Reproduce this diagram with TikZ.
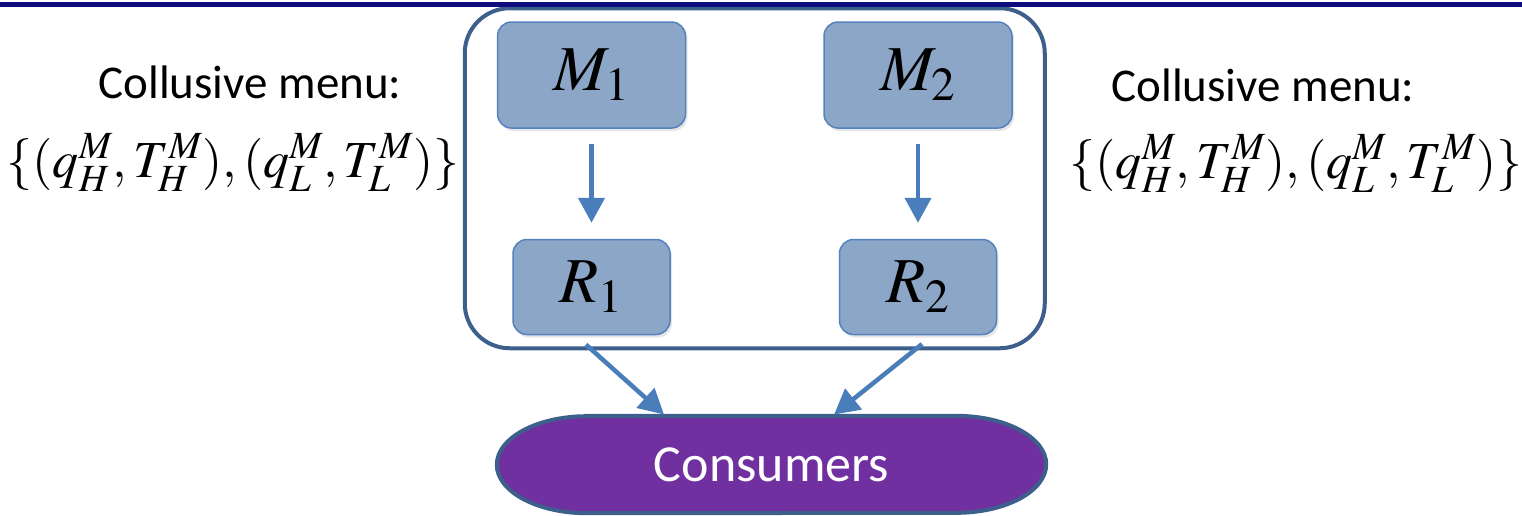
\documentclass[tikz,border=0pt]{standalone}
\usepackage{mathptmx}
\usepackage[no-math]{fontspec}
\newfontfamily\calibri{Carlito}
\usetikzlibrary{arrows.meta,positioning,fit,backgrounds,shadows,calc}

\definecolor{barnavy}{RGB}{12,12,125}
\definecolor{frameblue}{RGB}{61,95,140}
\definecolor{boxfill}{RGB}{140,166,199}
\definecolor{boxedge}{RGB}{84,130,190}
\definecolor{arrowblue}{RGB}{74,126,187}
\definecolor{conspurple}{RGB}{112,48,160}

\begin{document}
\begin{tikzpicture}[x=1pt, y=-1pt,
  firm/.style={draw=boxedge, line width=1.5pt, fill=boxfill, rounded corners=14pt,
    drop shadow={shadow xshift=2pt, shadow yshift=-3pt, opacity=0.2},
    font=\fontsize{64}{64}\selectfont, inner sep=0pt},
  upper/.style={firm, minimum width=188pt, minimum height=106pt},
  lower/.style={firm, minimum width=157pt, minimum height=95pt},
  frame/.style={draw=frameblue, line width=4pt, rounded corners=45pt},
  flow/.style={-{Triangle[width=26pt,length=25pt]}, arrowblue, line width=4.5pt},
  menu/.style={anchor=base, font=\calibri\fontsize{47}{47}\selectfont},
  offer/.style={anchor=base, font=\fontsize{52}{52}\selectfont},
]
  \useasboundingbox (0,0) rectangle (1522,515);

  % title rule
  \draw[barnavy, line width=5pt] (0,4.5) -- (1522,4.5);

  % manufacturers and retailers
  \node[upper] (m1) at (591.5,75) {$M_1$};
  \node[upper, right=137pt of m1] (m2) {$M_2$};
  \node[lower, below=110pt of m1] (r1) {$R_1$};
  \node[lower, below=110pt of m2] (r2) {$R_2$};

  % consumers
  \node[minimum width=549pt, minimum height=97pt, text=white,
    font=\calibri\fontsize{52}{52}\selectfont] (cons) at (771.5,464.5) {Consumers};

  \begin{scope}[on background layer]
    \node[frame, fit=(m1)(m2)(r1)(r2), inner xsep=32pt, inner ysep=13pt] (mkt) {};
    \path[fill=conspurple, draw=frameblue, line width=4pt]
      ($(cons.north west)+(90,0)$) -- ($(cons.north east)+(-90,0)$)
      arc[start angle=90, end angle=-90, x radius=90pt, y radius=48.5pt]
      -- ($(cons.south west)+(90,0)$)
      arc[start angle=270, end angle=90, x radius=90pt, y radius=48.5pt] -- cycle;
  \end{scope}

  % menus offered on each side
  \node[menu] (menu1) at (250,98) {Collusive menu:};
  \node[offer] (set1) at (233,177) {$\{(q_H^M, T_H^M), (q_L^M, T_L^M)\}$};
  \node[menu] (menu2) at (1263,101) {Collusive menu:};
  \node[offer] (set2) at (1296,178) {$\{(q_H^M, T_H^M), (q_L^M, T_L^M)\}$};

  % arrows
  \draw[flow, shorten <=15pt, shorten >=16pt] (m1) -- (r1);
  \draw[flow, shorten <=15pt, shorten >=16pt] (m2) -- (r2);
  \draw[flow, shorten <=14pt, shorten >=2pt] ([xshift=-16pt]r1.south) -- ([xshift=-106pt]cons.north);
  \draw[flow, shorten <=14pt, shorten >=2pt] ([xshift=15pt]r2.south) -- ([xshift=61pt]cons.north);
\end{tikzpicture}
\end{document}
